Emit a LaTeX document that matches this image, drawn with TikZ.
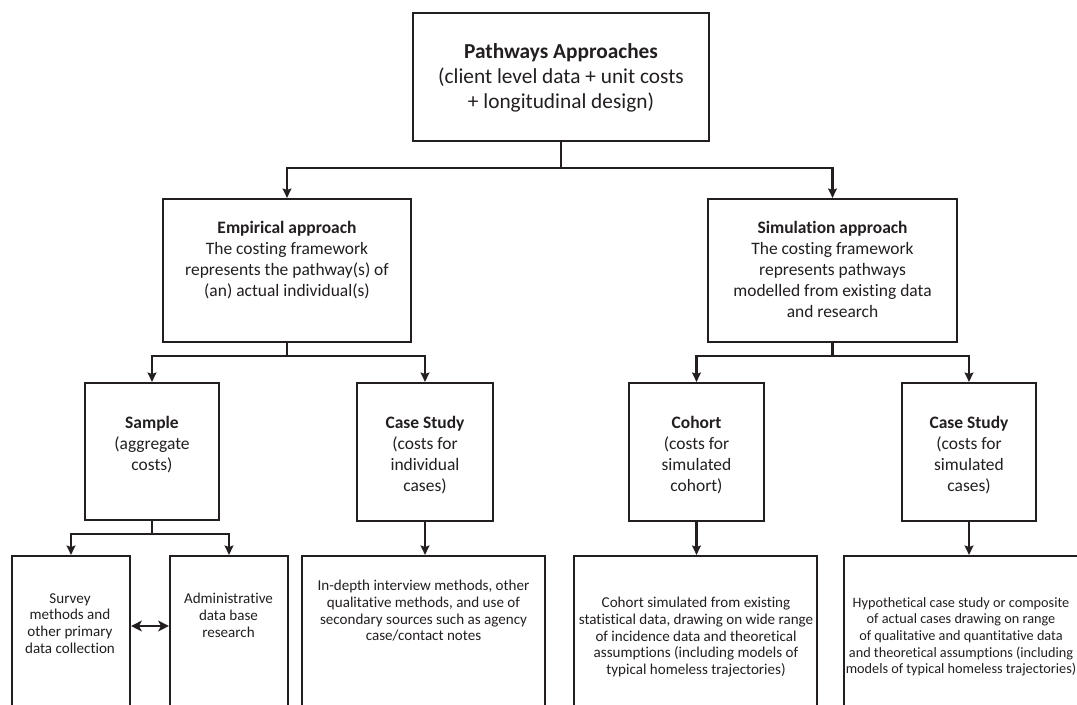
\documentclass[tikz,border=0pt]{standalone}
\usepackage{fontspec}
\setmainfont{Carlito}[Ligatures={NoCommon}]
\usetikzlibrary{arrows.meta}
\definecolor{ink}{HTML}{231F20}
\tikzset{
  bx/.style 2 args={draw=ink, line width=1.6pt, minimum width=#1*0.75pt, minimum height=#2*0.75pt, inner sep=0pt},
  txtA/.style={text=ink, align=center, inner sep=0pt, anchor=north, font=\fontsize{16}{18.75}\selectfont},
  txtB/.style={text=ink, align=center, inner sep=0pt, anchor=north, font=\fontsize{13.1}{15.75}\selectfont},
  txtC/.style={text=ink, align=center, inner sep=0pt, anchor=north, font=\fontsize{11.3}{12.5}\selectfont},
  txtD/.style={txtC, font=\fontsize{10.7}{12.5}\selectfont},
  conn/.style={draw=ink, line width=1.6pt},
  arr/.style={conn, -{Stealth[length=7pt,width=6.5pt,inset=1pt]}},
  dbl/.style={conn, {Stealth[length=8pt,width=8pt,inset=2pt]}-{Stealth[length=8pt,width=8pt,inset=2pt]}}
}
\begin{document}
\begin{tikzpicture}[x=0.75pt,y=-0.75pt]
\useasboundingbox (0,0) rectangle (1077,704);
\clip (0,0) rectangle (1077,704);
\fill[white] (0,0) rectangle (1077,704);

% boxes
\node[bx={296}{128}] (top) at (561,77) {};
\node[bx={248}{143}] (emp) at (287,270.5) {};
\node[bx={249}{143}] (sim) at (832.5,270.5) {};
\node[bx={134}{137}] (samp) at (152,451.5) {};
\node[bx={136}{138}] (cse) at (425,452) {};
\node[bx={135}{138}] (coh) at (696.5,452) {};
\node[bx={134}{138}] (css) at (969,452) {};
\node[bx={118}{204}] (sur) at (71,658) {};
\node[bx={118}{204}] (adm) at (229,658) {};
\node[bx={243}{204}] (ind) at (423.5,658) {};
\node[bx={243}{204}] (cbt) at (695.5,658) {};
\node[bx={243}{204}] (hyp) at (965.5,658) {};

% texts
\node[txtA] (top-t) at (561,43) {\textbf{Pathways Approaches}\\(client level data + unit costs\\+ longitudinal design)};
\node[txtB] (emp-t) at (287,221) {\textbf{Empirical approach}\\The costing framework\\represents the pathway(s) of\\(an) actual individual(s)};
\node[txtB] (sim-t) at (832.5,221) {\textbf{Simulation approach}\\The costing framework\\represents pathways\\modelled from existing data\\and research};
\node[txtB] (samp-t) at (152,416) {\textbf{Sample}\\(aggregate\\costs)};
\node[txtB] (cse-t) at (425,416) {\textbf{Case Study}\\(costs for\\individual\\cases)};
\node[txtB] (coh-t) at (696.5,416) {\textbf{Cohort}\\(costs for\\simulated\\cohort)};
\node[txtB] (css-t) at (969,416) {\textbf{Case Study}\\(costs for\\simulated\\cases)};
\node[txtC] (sur-t) at (70,593) {Survey\\methods and\\other primary\\data collection};
\node[txtC] (adm-t) at (228.5,593) {Administrative\\data base\\research};
\node[txtC] (ind-t) at (423.5,580) {In-depth interview methods, other\\qualitative methods, and use of\\secondary sources such as agency\\case/contact notes};
\node[txtC] (cbt-t) at (696,597) {Cohort simulated from existing\\statistical data, drawing on wide range\\of incidence data and theoretical\\assumptions (including models of\\typical homeless trajectories)};
\node[txtD] (hyp-t) at (961,597) {Hypothetical case study or composite\\of actual cases drawing on range\\of qualitative and quantitative data\\and theoretical assumptions (including\\models of typical homeless trajectories)};

% junctions
\coordinate (j1) at (561,168);
\coordinate (j2) at (287,356);
\coordinate (j3) at (832.5,356);
\coordinate (j4) at (152,534);
\coordinate (dm) at (150,626);

% connectors
\draw[conn] (top.south) -- (j1);
\draw[arr] (j1) -| (emp.north);
\draw[arr] (j1) -| (sim.north);
\draw[conn] (emp.south) -- (j2);
\draw[arr] (j2) -| (samp.north);
\draw[arr] (j2) -| (cse.north);
\draw[conn] (sim.south) -- (j3);
\draw[arr] (j3) -| (coh.north);
\draw[arr] (j3) -| (css.north);
\draw[conn] (samp.south) -- (j4);
\draw[arr] (j4) -| (sur.north);
\draw[arr] (j4) -| (adm.north);
\draw[arr] (cse.south) -- (cse.south |- ind.north);
\draw[arr] (coh.south) -- (coh.south |- cbt.north);
\draw[arr] (css.south) -- (css.south |- hyp.north);
\draw[dbl] (sur.east |- dm) -- (adm.west |- dm);
\end{tikzpicture}
\end{document}
